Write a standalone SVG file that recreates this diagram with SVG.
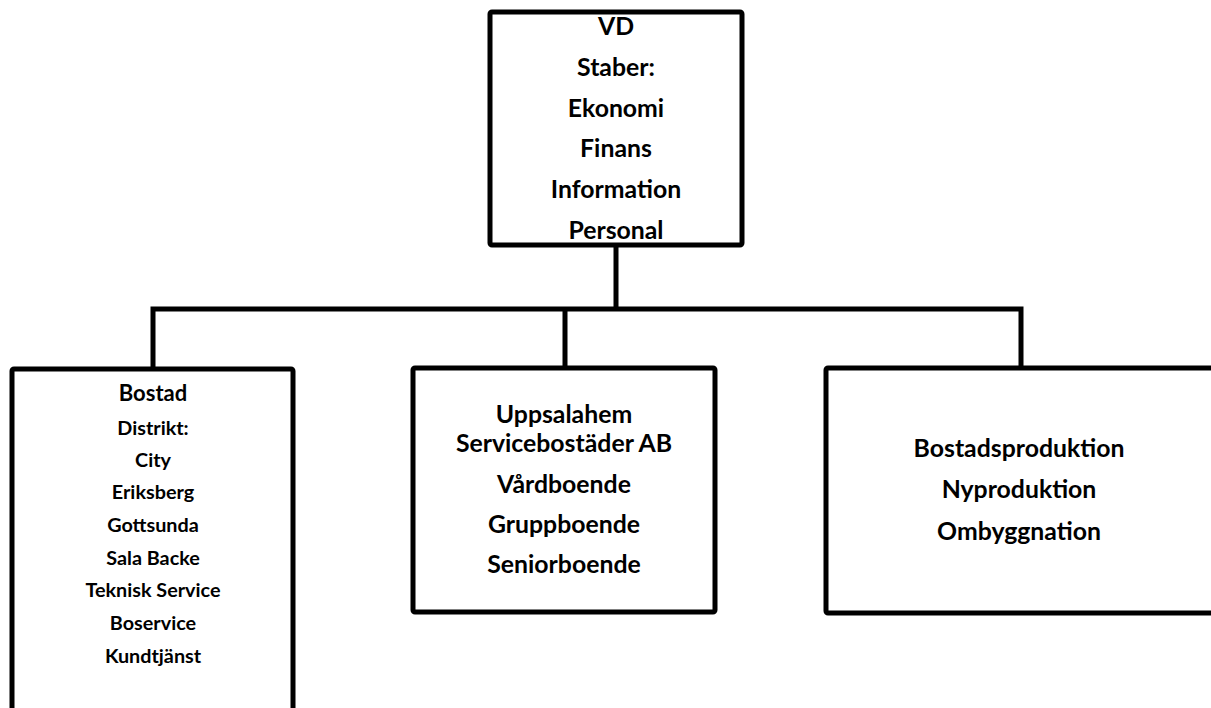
<svg xmlns="http://www.w3.org/2000/svg" width="1211" height="708" viewBox="0 0 1211 708">
<style>
.box{fill:#fff;stroke:#000;stroke-width:5;stroke-linejoin:round}
.conn{stroke:#000;stroke-width:5;fill:none;stroke-linecap:square}
text{font-family:Lato,"Open Sans","Liberation Sans",sans-serif;font-weight:bold;fill:#000;text-anchor:middle}
.l{font-size:24.8px}
.s{font-size:19.8px}
</style>
<rect width="1211" height="708" fill="#fff"/>
<g id="connectors">
<path class="conn" d="M616,245 V309 M153,309 H1021 M153,309 V368 M565,309 V368 M1021,309 V368"/>
</g>
<g id="vd">
<rect class="box" x="490" y="12" width="252" height="233" rx="2"/>
<text class="l" x="616" y="35">VD</text>
<text class="l" x="616" y="76">Staber:</text>
<text class="l" x="616" y="117">Ekonomi</text>
<text class="l" x="616" y="157">Finans</text>
<text class="l" x="616" y="198">Information</text>
<text class="l" x="616" y="239">Personal</text>
</g>
<g id="bostad">
<rect class="box" x="12" y="369" width="281" height="360" rx="2"/>
<text class="l" x="153" y="401" style="font-size:22px">Bostad</text>
<text class="s" x="153" y="435">Distrikt:</text>
<text class="s" x="153" y="467">City</text>
<text class="s" x="153" y="499">Eriksberg</text>
<text class="s" x="153" y="532">Gottsunda</text>
<text class="s" x="153" y="565">Sala Backe</text>
<text class="s" x="153" y="597">Teknisk Service</text>
<text class="s" x="153" y="630">Boservice</text>
<text class="s" x="153" y="663">Kundtjänst</text>
</g>
<g id="servicebostader">
<rect class="box" x="413" y="368" width="302" height="244" rx="2"/>
<text class="l" x="564" y="423">Uppsalahem</text>
<text class="l" x="564" y="452">Servicebostäder AB</text>
<text class="l" x="564" y="493">Vårdboende</text>
<text class="l" x="564" y="533">Gruppboende</text>
<text class="l" x="564" y="573">Seniorboende</text>
</g>
<g id="bostadsproduktion">
<rect class="box" x="826" y="368" width="400" height="245" rx="2"/>
<text class="l" x="1019" y="457">Bostadsproduktion</text>
<text class="l" x="1019" y="498">Nyproduktion</text>
<text class="l" x="1019" y="540">Ombyggnation</text>
</g>
</svg>
